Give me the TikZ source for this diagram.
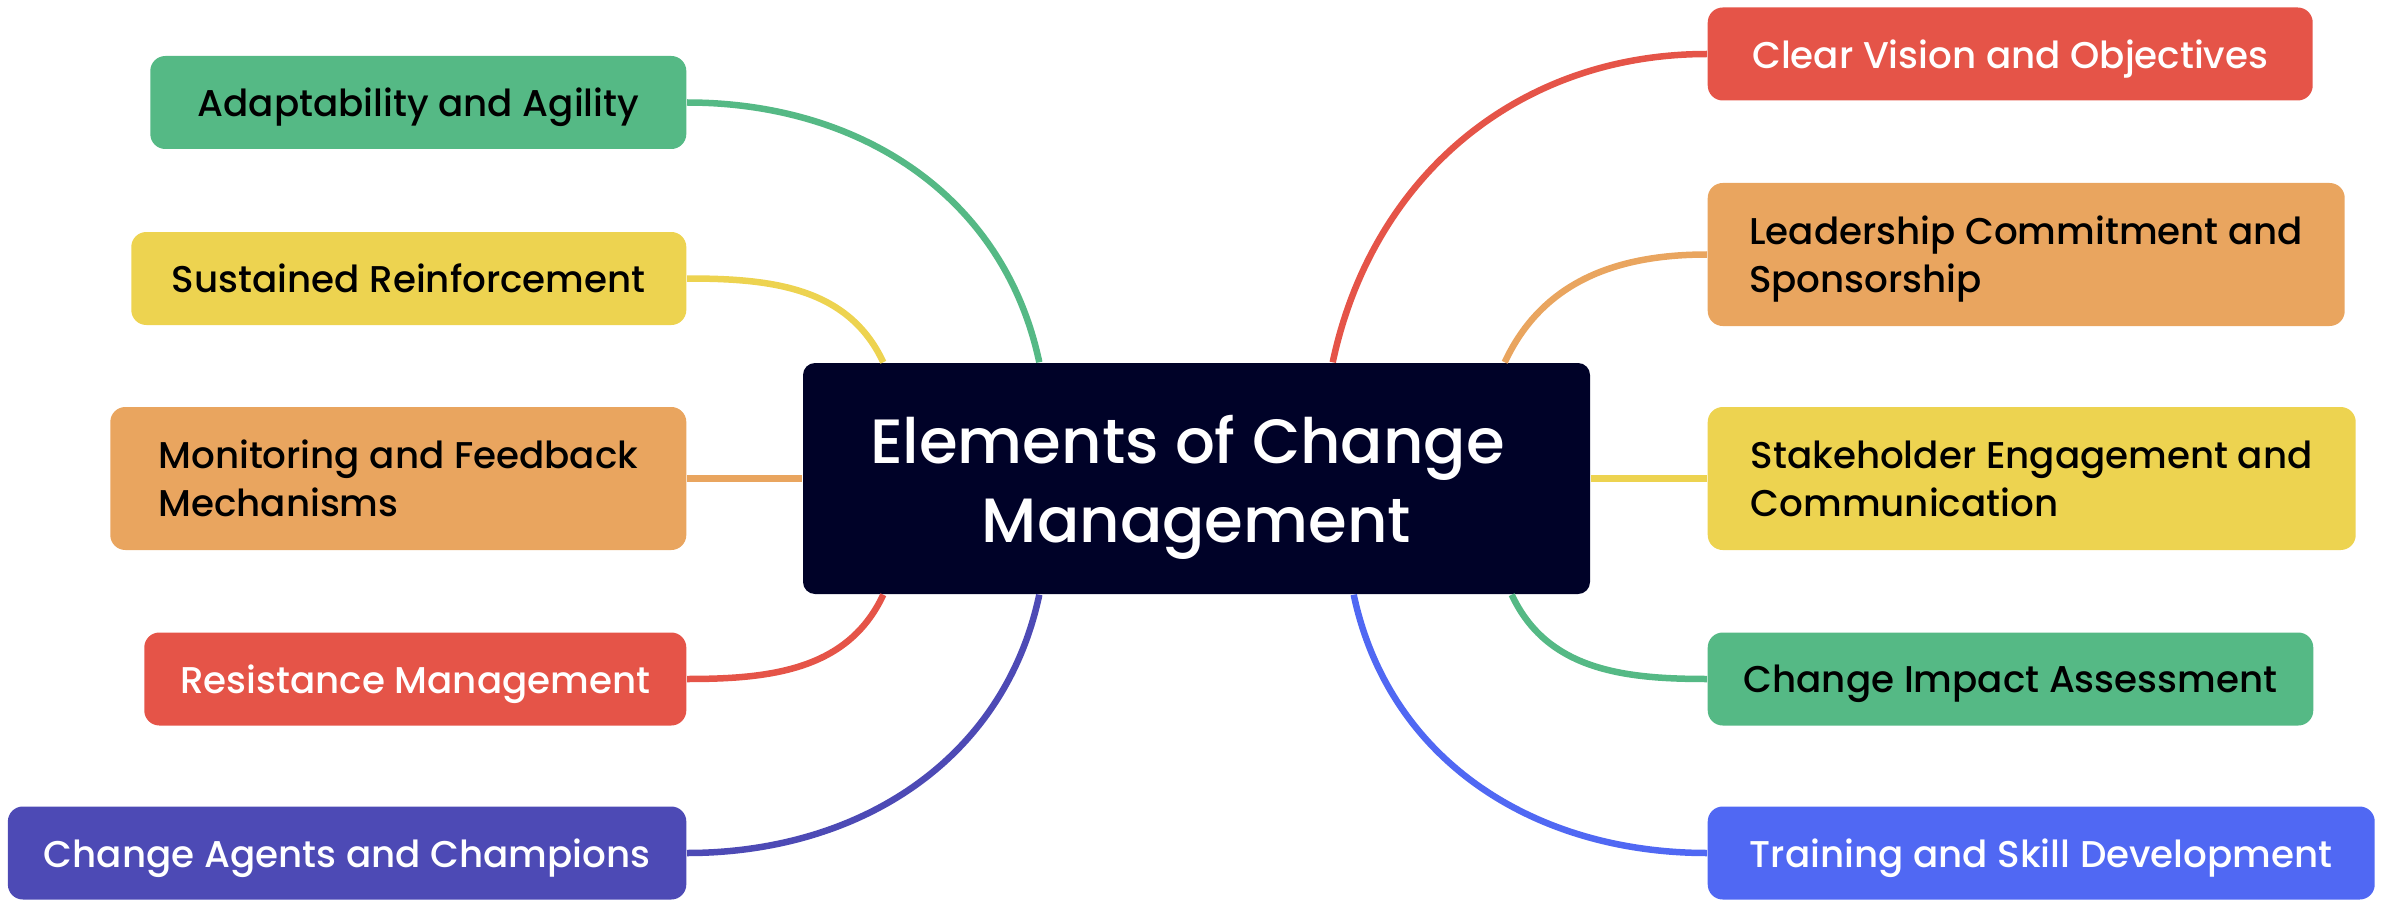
\documentclass[tikz,border=0pt]{standalone}
\usepackage{fontspec}
\setmainfont{Poppins}[UprightFont={* Medium}]
\usetikzlibrary{positioning}

\definecolor{mmgreen}{HTML}{55B985}
\definecolor{mmyellow}{HTML}{EDD350}
\definecolor{mmorange}{HTML}{E9A55F}
\definecolor{mmred}{HTML}{E55448}
\definecolor{mmpurple}{HTML}{4D4AB5}
\definecolor{mmblue}{HTML}{5068F3}
\definecolor{mmnavy}{HTML}{000228}

\begin{document}
\begin{tikzpicture}[
  leaf/.style={rounded corners=0.15cm,inner xsep=0.36cm,inner ysep=0pt,minimum height=0.93cm,text depth=0pt,font=\fontsize{10.6}{13.7}\selectfont},
  twoline/.style={leaf,minimum height=1.43cm,align=left},
  hub/.style={fill=mmnavy,text=white,rounded corners=0.12cm,minimum width=7.87cm,minimum height=2.31cm,align=center,text depth=0pt,font=\fontsize{17.8}{22.5}\selectfont},
  link/.style={line width=0.065cm}
]
\useasboundingbox (0,0) rectangle (23.90,-9.01);

% centre
\node[hub] (hub) at (11.965,-4.785) {Elements of Change\hspace*{0.18cm}\\Management};

% left side
\node[leaf,fill=mmgreen,minimum width=5.36cm,anchor=east] (ada) at (6.87,-1.025) {Adaptability and Agility};
\node[leaf,fill=mmyellow,minimum width=5.55cm,anchor=east] (sus) at (6.87,-2.785) {Sustained Reinforcement};
\node[twoline,fill=mmorange,minimum width=5.76cm,anchor=east] (mon) at (6.87,-4.785) {Monitoring and Feedback\\Mechanisms};
\node[leaf,fill=mmred,text=white,minimum width=5.42cm,anchor=east] (res) at (6.87,-6.79) {Resistance Management};
\node[leaf,fill=mmpurple,text=white,minimum width=6.78cm,anchor=east] (agt) at (6.87,-8.53) {Change Agents and Champions};

% right side
\node[leaf,fill=mmred,text=white,minimum width=6.05cm,anchor=west] (vis) at (17.07,-0.54) {Clear Vision and Objectives};
\node[twoline,fill=mmorange,minimum width=6.37cm,anchor=west] (lead) at (17.07,-2.545) {Leadership Commitment and\\Sponsorship};
\node[twoline,fill=mmyellow,minimum width=6.48cm,anchor=west] (stk) at (17.07,-4.785) {Stakeholder Engagement and\\Communication};
\node[leaf,fill=mmgreen,minimum width=6.02cm,anchor=west] (imp) at (17.07,-6.79) {Change Impact Assessment};
\node[leaf,fill=mmblue,text=white,minimum width=6.67cm,anchor=west] (trn) at (17.07,-8.53) {Training and Skill Development};

% branches
\draw[link,mmgreen] (ada.east) to[out=0,in=102] ([xshift=2.37cm]hub.north west);
\draw[link,mmyellow] (sus.east) to[out=0,in=115] ([xshift=0.81cm]hub.north west);
\draw[link,mmorange] (mon.east) -- (hub.west);
\draw[link,mmred] (res.east) to[out=0,in=-115] ([xshift=0.81cm]hub.south west);
\draw[link,mmpurple] (agt.east) to[out=0,in=-102] ([xshift=2.37cm]hub.south west);

\draw[link,mmred] (vis.west) to[out=180,in=78] ([xshift=-2.58cm]hub.north east);
\draw[link,mmorange] (lead.west) to[out=180,in=65] ([xshift=-0.86cm]hub.north east);
\draw[link,mmyellow] (stk.west) -- (hub.east);
\draw[link,mmgreen] (imp.west) to[out=180,in=-65] ([xshift=-0.79cm]hub.south east);
\draw[link,mmblue] (trn.west) to[out=180,in=-78] ([xshift=-2.37cm]hub.south east);

\end{tikzpicture}
\end{document}
